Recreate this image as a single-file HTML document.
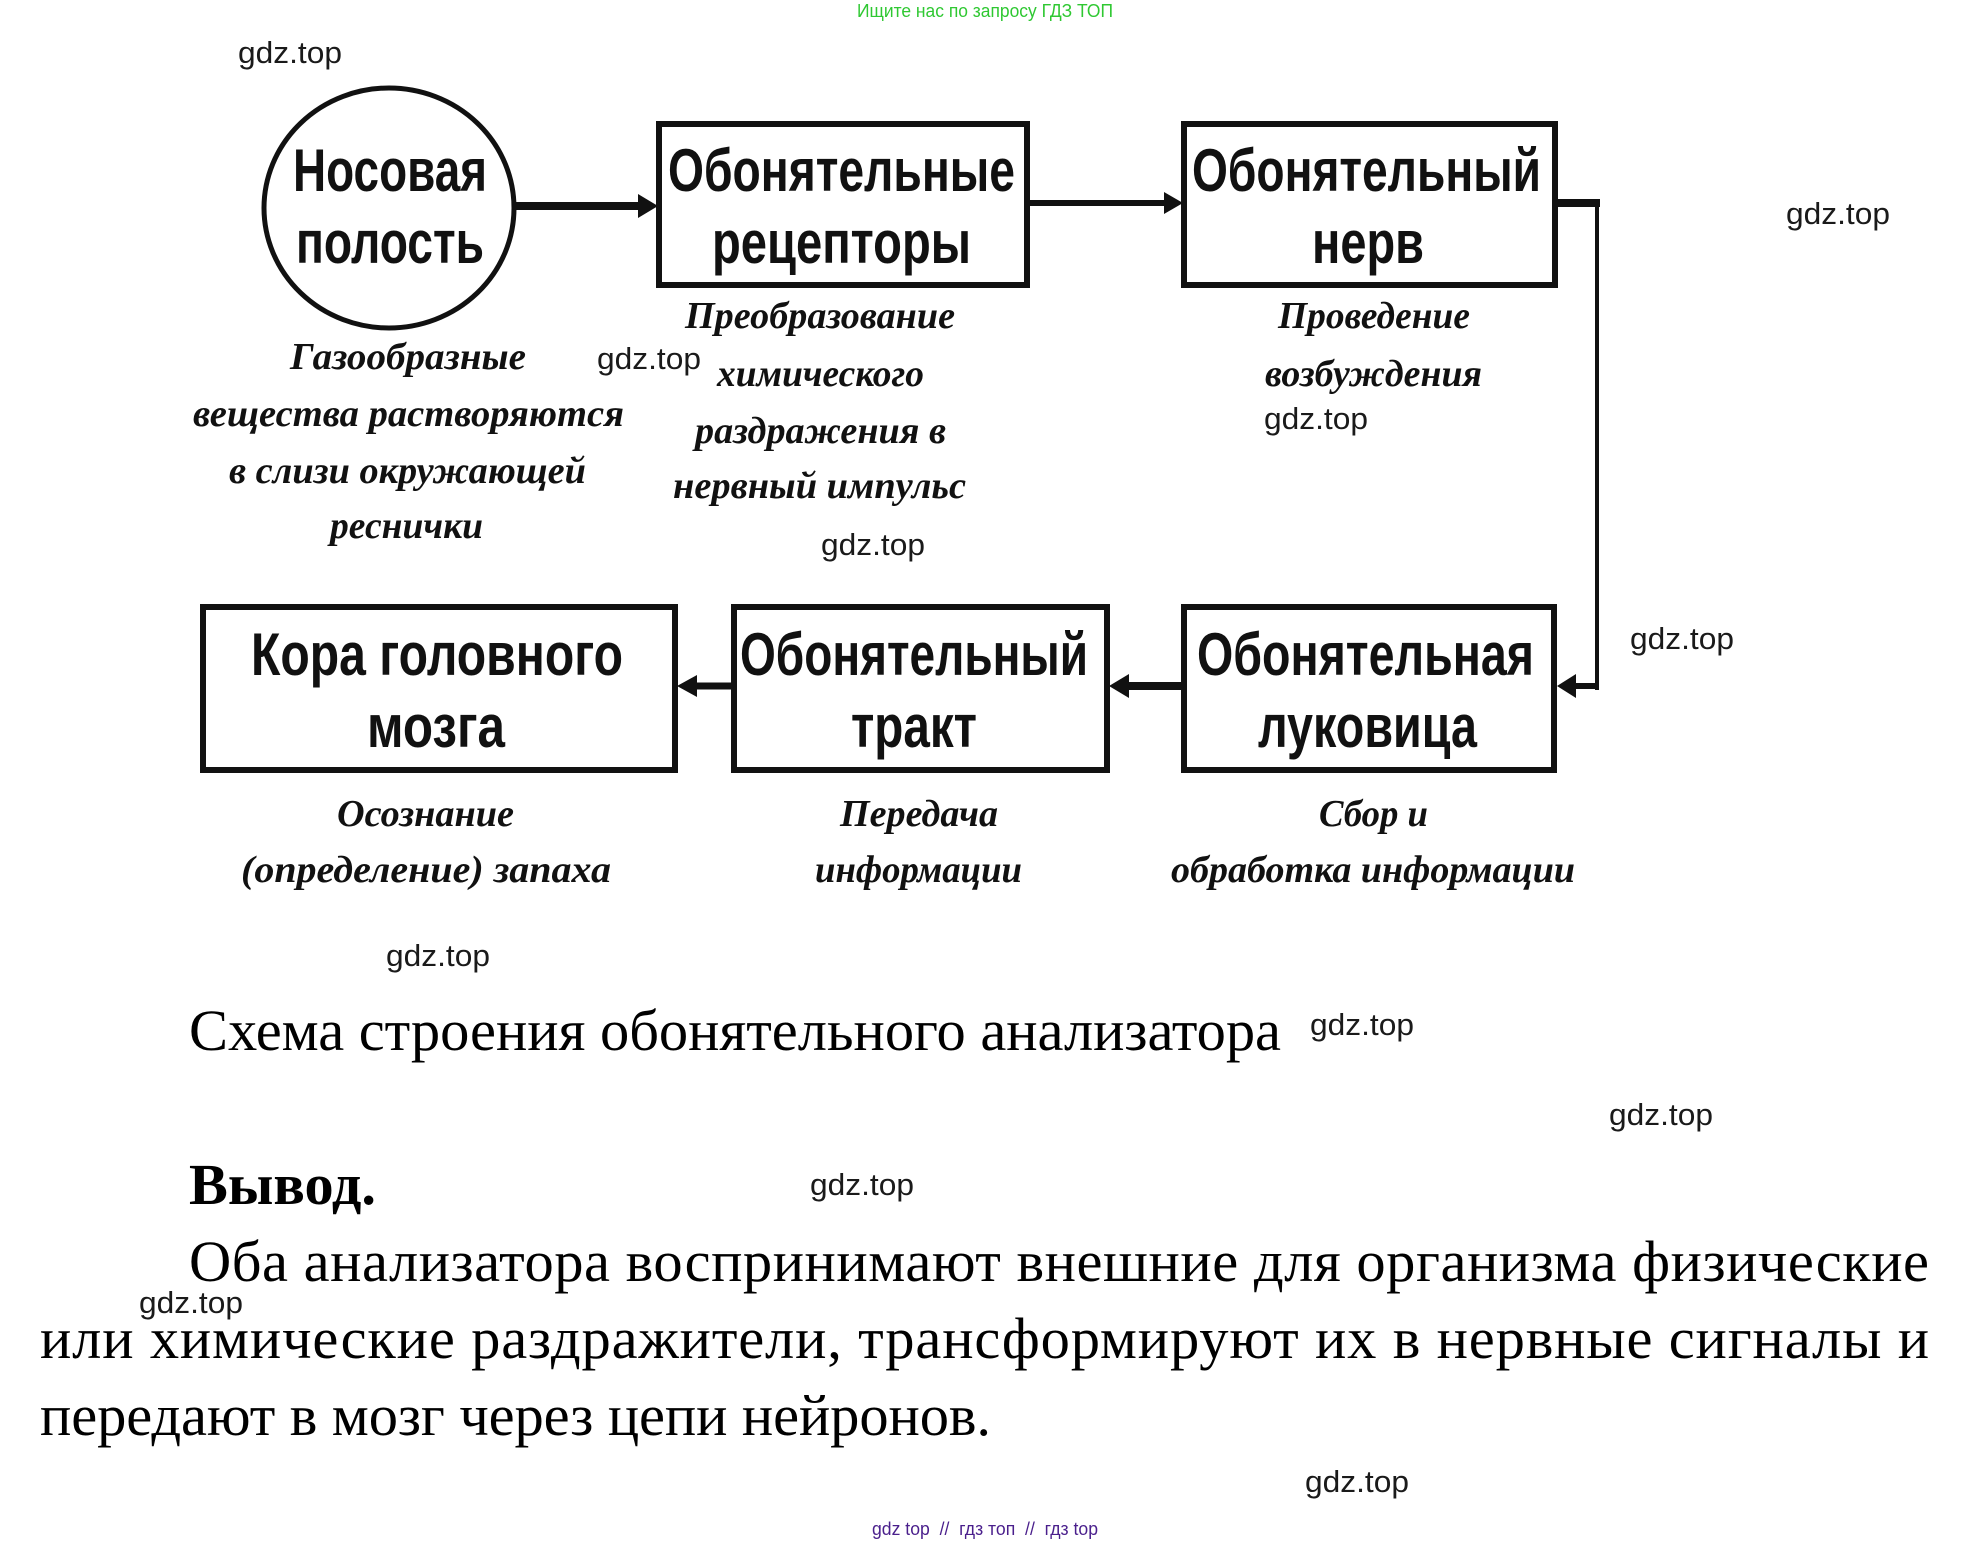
<!DOCTYPE html>
<html>
<head>
<meta charset="utf-8">
<style>
html,body{margin:0;padding:0;background:#fff;}
body{width:1972px;height:1544px;overflow:hidden;position:relative;}
svg{position:absolute;left:0;top:0;}
.bx{font-family:"Liberation Sans",Arial,sans-serif;font-weight:bold;font-size:60px;fill:#111;}
.it{font-family:"Liberation Serif","Times New Roman",serif;font-weight:bold;font-style:italic;font-size:38px;fill:#111;}
.wm{font-family:"Liberation Sans",Arial,sans-serif;font-size:31px;fill:#1a1a1a;}
.sr{font-family:"Liberation Serif","Times New Roman",serif;font-size:58.5px;fill:#000;}
</style>
</head>
<body>
<svg width="1972" height="1544" viewBox="0 0 1972 1544" xmlns="http://www.w3.org/2000/svg">
  <!-- top banner -->
  <text x="857" y="17" font-family="Liberation Sans, Arial, sans-serif" font-size="18" fill="#2fc832" textLength="256" lengthAdjust="spacingAndGlyphs">Ищите нас по запросу ГДЗ ТОП</text>

  <!-- circle -->
  <ellipse cx="389" cy="208" rx="125" ry="120" fill="none" stroke="#111" stroke-width="5"/>

  <!-- boxes -->
  <rect x="659" y="124" width="368" height="161" fill="none" stroke="#111" stroke-width="6"/>
  <rect x="1184" y="124" width="371" height="161" fill="none" stroke="#111" stroke-width="6"/>
  <rect x="1184" y="607" width="370" height="163" fill="none" stroke="#111" stroke-width="6"/>
  <rect x="734" y="607" width="373" height="163" fill="none" stroke="#111" stroke-width="6"/>
  <rect x="203" y="607" width="472" height="163" fill="none" stroke="#111" stroke-width="6"/>

  <!-- connectors -->
  <line x1="513" y1="206" x2="642" y2="206" stroke="#111" stroke-width="8"/>
  <polygon points="658,206 638,194 638,218" fill="#111"/>

  <line x1="1030" y1="203" x2="1168" y2="203" stroke="#111" stroke-width="6"/>
  <polygon points="1183,203 1164,192 1164,214" fill="#111"/>

  <line x1="1557" y1="203" x2="1600" y2="203" stroke="#111" stroke-width="8"/>
  <line x1="1597" y1="199" x2="1597" y2="690" stroke="#111" stroke-width="4"/>
  <line x1="1599" y1="686" x2="1572" y2="686" stroke="#111" stroke-width="6"/>
  <polygon points="1557,686 1576,674 1576,698" fill="#111"/>

  <line x1="1182" y1="686" x2="1124" y2="686" stroke="#111" stroke-width="8"/>
  <polygon points="1109,686 1129,674 1129,698" fill="#111"/>

  <line x1="732" y1="686" x2="692" y2="686" stroke="#111" stroke-width="7"/>
  <polygon points="677,686 697,675 697,697" fill="#111"/>

  <!-- box labels -->
  <text class="bx" x="293" y="191" textLength="194" lengthAdjust="spacingAndGlyphs">Носовая</text>
  <text class="bx" x="296" y="263" textLength="188" lengthAdjust="spacingAndGlyphs">полость</text>
  <text class="bx" x="668" y="191" textLength="347" lengthAdjust="spacingAndGlyphs">Обонятельные</text>
  <text class="bx" x="712" y="263" textLength="259" lengthAdjust="spacingAndGlyphs">рецепторы</text>
  <text class="bx" x="1192" y="191" textLength="349" lengthAdjust="spacingAndGlyphs">Обонятельный</text>
  <text class="bx" x="1312" y="263" textLength="112" lengthAdjust="spacingAndGlyphs">нерв</text>
  <text class="bx" x="251" y="675" textLength="372" lengthAdjust="spacingAndGlyphs">Кора головного</text>
  <text class="bx" x="367" y="747" textLength="138" lengthAdjust="spacingAndGlyphs">мозга</text>
  <text class="bx" x="740" y="675" textLength="348" lengthAdjust="spacingAndGlyphs">Обонятельный</text>
  <text class="bx" x="851" y="747" textLength="126" lengthAdjust="spacingAndGlyphs">тракт</text>
  <text class="bx" x="1197" y="675" textLength="337" lengthAdjust="spacingAndGlyphs">Обонятельная</text>
  <text class="bx" x="1258" y="747" textLength="219" lengthAdjust="spacingAndGlyphs">луковица</text>

  <!-- italic captions -->
  <text class="it" x="290" y="369" textLength="236" lengthAdjust="spacingAndGlyphs">Газообразные</text>
  <text class="it" x="193" y="426" textLength="431" lengthAdjust="spacingAndGlyphs">вещества растворяются</text>
  <text class="it" x="229" y="483" textLength="357" lengthAdjust="spacingAndGlyphs">в слизи окружающей</text>
  <text class="it" x="330" y="538" textLength="153" lengthAdjust="spacingAndGlyphs">реснички</text>

  <text class="it" x="685" y="328" textLength="270" lengthAdjust="spacingAndGlyphs">Преобразование</text>
  <text class="it" x="717" y="386" textLength="207" lengthAdjust="spacingAndGlyphs">химического</text>
  <text class="it" x="695" y="443" textLength="251" lengthAdjust="spacingAndGlyphs">раздражения в</text>
  <text class="it" x="673" y="498" textLength="293" lengthAdjust="spacingAndGlyphs">нервный импульс</text>

  <text class="it" x="1278" y="328" textLength="192" lengthAdjust="spacingAndGlyphs">Проведение</text>
  <text class="it" x="1265" y="386" textLength="217" lengthAdjust="spacingAndGlyphs">возбуждения</text>

  <text class="it" x="337" y="826" textLength="177" lengthAdjust="spacingAndGlyphs">Осознание</text>
  <text class="it" x="241" y="882" textLength="370" lengthAdjust="spacingAndGlyphs">(определение) запаха</text>
  <text class="it" x="840" y="826" textLength="158" lengthAdjust="spacingAndGlyphs">Передача</text>
  <text class="it" x="815" y="882" textLength="207" lengthAdjust="spacingAndGlyphs">информации</text>
  <text class="it" x="1319" y="826" textLength="109" lengthAdjust="spacingAndGlyphs">Сбор и</text>
  <text class="it" x="1171" y="882" textLength="404" lengthAdjust="spacingAndGlyphs">обработка информации</text>

  <!-- caption and conclusion -->
  <text class="sr" x="189" y="1050" textLength="1092" lengthAdjust="spacing">Схема строения обонятельного анализатора</text>
  <text class="sr" x="189" y="1204" font-weight="bold" textLength="187" lengthAdjust="spacingAndGlyphs">Вывод.</text>
  <text class="sr" x="189" y="1281" textLength="1740" lengthAdjust="spacing">Оба анализатора воспринимают внешние для организма физические</text>
  <text class="sr" x="40" y="1358" textLength="1889" lengthAdjust="spacing">или химические раздражители, трансформируют их в нервные сигналы и</text>
  <text class="sr" x="40" y="1435" textLength="951" lengthAdjust="spacing">передают в мозг через цепи нейронов.</text>

  <!-- watermarks -->
  <text class="wm" x="238" y="63" textLength="104" lengthAdjust="spacingAndGlyphs">gdz.top</text>
  <text class="wm" x="1786" y="224" textLength="104" lengthAdjust="spacingAndGlyphs">gdz.top</text>
  <text class="wm" x="597" y="369" textLength="104" lengthAdjust="spacingAndGlyphs">gdz.top</text>
  <text class="wm" x="1264" y="429" textLength="104" lengthAdjust="spacingAndGlyphs">gdz.top</text>
  <text class="wm" x="821" y="555" textLength="104" lengthAdjust="spacingAndGlyphs">gdz.top</text>
  <text class="wm" x="1630" y="649" textLength="104" lengthAdjust="spacingAndGlyphs">gdz.top</text>
  <text class="wm" x="386" y="966" textLength="104" lengthAdjust="spacingAndGlyphs">gdz.top</text>
  <text class="wm" x="1310" y="1035" textLength="104" lengthAdjust="spacingAndGlyphs">gdz.top</text>
  <text class="wm" x="1609" y="1125" textLength="104" lengthAdjust="spacingAndGlyphs">gdz.top</text>
  <text class="wm" x="810" y="1195" textLength="104" lengthAdjust="spacingAndGlyphs">gdz.top</text>
  <text class="wm" x="139" y="1313" textLength="104" lengthAdjust="spacingAndGlyphs">gdz.top</text>
  <text class="wm" x="1305" y="1492" textLength="104" lengthAdjust="spacingAndGlyphs">gdz.top</text>

  <!-- bottom banner -->
  <text x="872" y="1535" font-family="Liberation Sans, Arial, sans-serif" font-size="18" fill="#4a1f8c" textLength="226" lengthAdjust="spacingAndGlyphs" xml:space="preserve">gdz top  //  гдз топ  //  гдз top</text>
</svg>
</body>
</html>
